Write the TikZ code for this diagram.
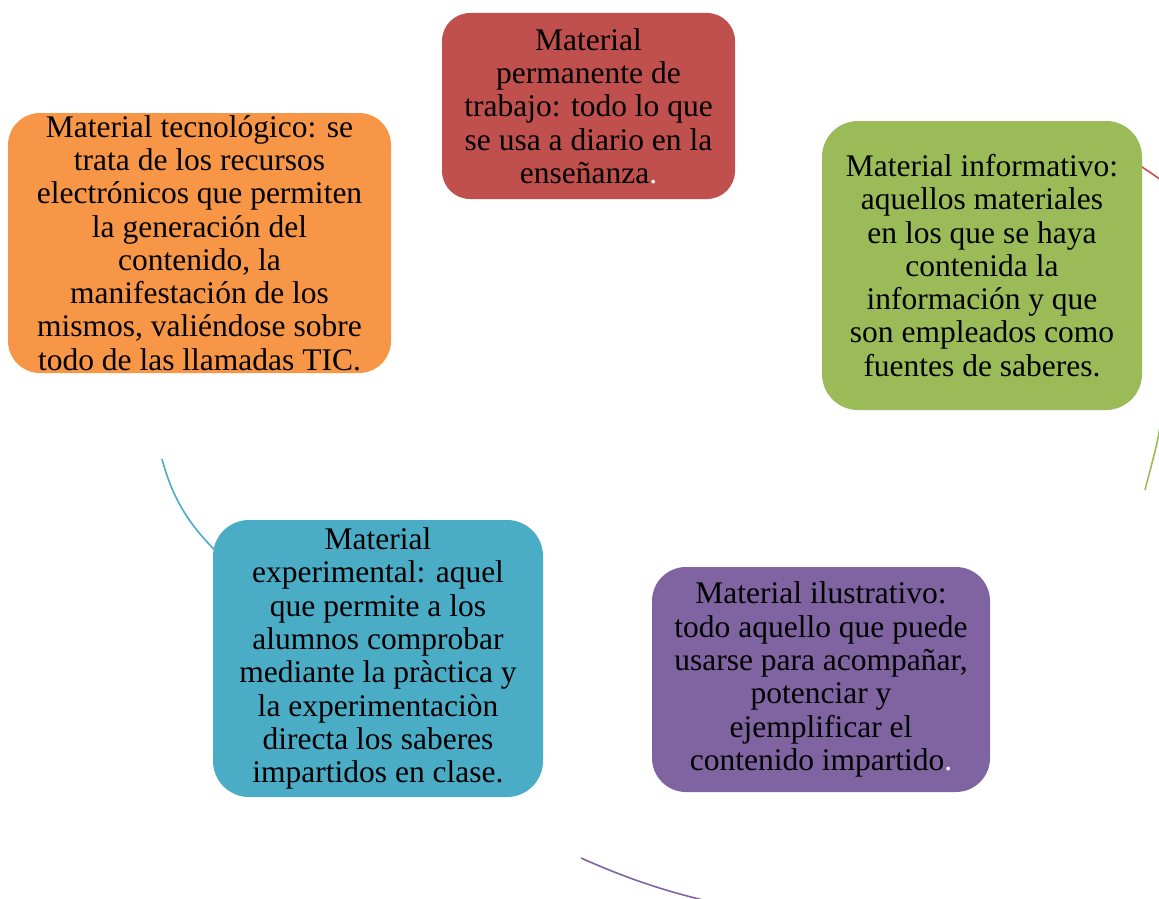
\documentclass[tikz,border=0pt]{standalone}
\usepackage{fontspec}
\setmainfont{Liberation Serif}
\definecolor{cred}{HTML}{C0504D}
\definecolor{cgreen}{HTML}{9BBB59}
\definecolor{cpurple}{HTML}{8064A2}
\definecolor{cblue}{HTML}{4BACC6}
\definecolor{corange}{HTML}{F79646}
\begin{document}
\begin{tikzpicture}[x=1pt,y=1pt,
  box/.style={rounded corners=32pt, align=center, inner sep=0pt, text=black,
    font=\fontsize{31.5}{33.3}\selectfont},
  arcline/.style={line width=1.6pt}]
\useasboundingbox (0,0) rectangle (1159,-899);
\clip (0,0) rectangle (1159,-899);
% arc coordinates
\coordinate (b1) at (162,-459);
\coordinate (b2) at (238,-572);
\coordinate (p1) at (581,-858);
\coordinate (p2) at (770,-915);
\coordinate (g1) at (1163,-395);
\coordinate (g2) at (1145,-490);
\coordinate (r1) at (1125,-156);
\coordinate (r2) at (1180,-193);
% arcs (behind boxes)
\draw[arcline, cblue] (b1) to[out=-75, in=138] (b2);
\draw[arcline, cpurple] (p1) to[out=-24, in=168] (p2);
\draw[arcline, cgreen] (g1) to[out=-92, in=76] (g2);
\draw[arcline, cred] (r1) to[out=-32, in=146] (r2);
% boxes
\node[box, fill=cred, minimum width=293pt, minimum height=186pt, rounded corners=28pt]
  (red) at (588.5,-106) {Material\\permanente de\\trabajo: todo lo que\\se usa a diario en la\\enseñanza{\color{white}.}};
\node[box, fill=corange, minimum width=383pt, minimum height=260pt]
  (orange) at (199.5,-243) {Material tecnológico: se\\trata de los recursos\\electrónicos que permiten\\la generación del\\contenido, la\\manifestación de los\\mismos, valiéndose sobre\\todo de las llamadas TIC.};
\node[box, fill=cgreen, minimum width=320pt, minimum height=289pt, rounded corners=36pt]
  (green) at (982,-265.5) {Material informativo:\\aquellos materiales\\en los que se haya\\contenida la\\información y que\\son empleados como\\fuentes de saberes.};
\node[box, fill=cblue, minimum width=330pt, minimum height=277pt, rounded corners=36pt]
  (blue) at (378,-658.5) {Material\\experimental: aquel\\que permite a los\\alumnos comprobar\\mediante la pràctica y\\la experimentaciòn\\directa los saberes\\impartidos en clase.};
\node[box, fill=cpurple, minimum width=338pt, minimum height=225pt, rounded corners=34pt]
  (purple) at (821,-679.5) {Material ilustrativo:\\todo aquello que puede\\usarse para acompañar,\\potenciar y\\ejemplificar el\\contenido impartido{\color{white}.}};
\end{tikzpicture}
\end{document}
